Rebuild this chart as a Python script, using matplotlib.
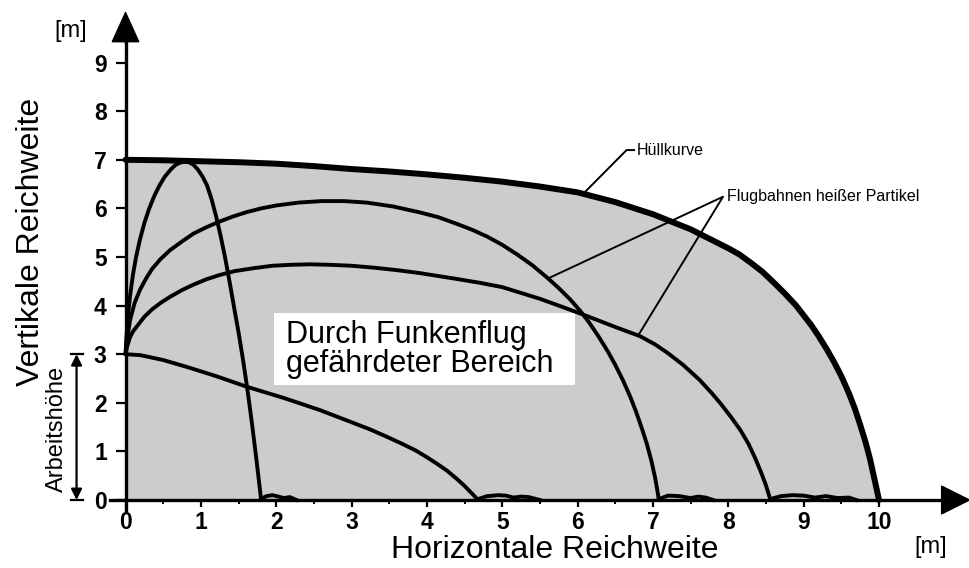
import matplotlib
matplotlib.use("Agg")
import matplotlib.pyplot as plt
import matplotlib.patches as patches

plt.rcParams['font.family'] = ['Liberation Sans', 'DejaVu Sans']

# envelope curve (Hüllkurve)
env_x = [0, 0.5, 1, 1.5, 2, 2.5, 3, 3.5, 4, 4.5, 5, 5.5, 6, 6.5, 7, 7.5, 8, 8.15, 8.3,
         8.45, 8.6, 8.75, 8.9, 9.0, 9.1, 9.2, 9.3, 9.4, 9.5, 9.6, 9.68, 9.75, 9.82,
         9.88, 9.93, 9.97, 10]
env_y = [7.0, 6.99, 6.97, 6.95, 6.92, 6.87, 6.81, 6.76, 6.7, 6.63, 6.55, 6.45, 6.33,
         6.13, 5.88, 5.57, 5.18, 5.05, 4.88, 4.7, 4.48, 4.25, 4.0, 3.8, 3.6, 3.37, 3.12,
         2.85, 2.55, 2.2, 1.88, 1.55, 1.2, 0.85, 0.5, 0.22, 0]

# steep trajectory
steep_x = [0, 0.01, 0.03, 0.06, 0.1, 0.14, 0.19, 0.25, 0.31, 0.38, 0.45, 0.52, 0.6,
           0.66, 0.72, 0.78, 0.84, 0.9, 0.96, 1.02, 1.08, 1.14, 1.2, 1.26, 1.32, 1.38,
           1.44, 1.5, 1.56, 1.62, 1.68, 1.74, 1.8]
steep_y = [3.0, 3.3, 3.75, 4.2, 4.65, 5.0, 5.35, 5.7, 5.98, 6.25, 6.47, 6.65, 6.8,
           6.89, 6.94, 6.96, 6.95, 6.9, 6.8, 6.66, 6.48, 6.2, 5.85, 5.45, 5.0, 4.5,
           3.97, 3.45, 2.88, 2.25, 1.55, 0.8, 0]

# medium trajectory
mid_x = [0, 0.02, 0.06, 0.12, 0.19, 0.27, 0.35, 0.46, 0.59, 0.75, 0.9, 1.07, 1.25, 1.42,
         1.6, 1.8, 2.0, 2.3, 2.6, 2.9, 3.2, 3.55, 3.9, 4.15, 4.4, 4.6, 4.8, 5.0, 5.2,
         5.4, 5.6, 5.75, 5.9, 6.03, 6.15, 6.28, 6.4, 6.5, 6.6, 6.7, 6.78, 6.86, 6.92,
         6.98, 7.03, 7.08]
mid_y = [3.0, 3.3, 3.7, 4.05, 4.32, 4.55, 4.75, 4.95, 5.14, 5.32, 5.48, 5.61, 5.73, 5.83,
         5.92, 6.0, 6.06, 6.12, 6.15, 6.15, 6.12, 6.04, 5.92, 5.82, 5.68, 5.56, 5.42,
         5.25, 5.05, 4.83, 4.57, 4.36, 4.13, 3.9, 3.66, 3.36, 3.06, 2.78, 2.47, 2.12,
         1.8, 1.44, 1.15, 0.8, 0.45, 0]

# flat trajectory
low_x = [0, 0.02, 0.06, 0.1, 0.15, 0.25, 0.35, 0.47, 0.59, 0.75, 0.9, 1.07, 1.25, 1.45,
         1.7, 1.95, 2.2, 2.45, 2.7, 3.0, 3.3, 3.6, 3.9, 4.35, 4.7, 5.0, 5.25, 5.5, 5.75,
         6.03, 6.25, 6.5, 6.83, 7.03, 7.2, 7.4, 7.62, 7.78, 7.9, 8.03, 8.16, 8.27, 8.36,
         8.44, 8.5, 8.56]
low_y = [3.0, 3.15, 3.35, 3.47, 3.57, 3.77, 3.92, 4.06, 4.18, 4.32, 4.43, 4.54, 4.63,
         4.71, 4.77, 4.82, 4.84, 4.85, 4.84, 4.82, 4.78, 4.73, 4.67, 4.56, 4.47, 4.38,
         4.26, 4.14, 4.0, 3.84, 3.71, 3.56, 3.37, 3.2, 3.02, 2.78, 2.47, 2.2, 1.98, 1.72,
         1.44, 1.15, 0.85, 0.55, 0.3, 0]

# horizontal throw
hor_x = [0, 0.2, 0.5, 0.81, 1.2, 1.61, 2.1, 2.58, 3.0, 3.25, 3.47, 3.68, 3.85, 4.0,
         4.13, 4.27, 4.4, 4.5, 4.6, 4.68]
hor_y = [3.0, 2.98, 2.88, 2.74, 2.55, 2.33, 2.1, 1.85, 1.6, 1.45, 1.30, 1.15, 1.02, 0.88,
         0.75, 0.6, 0.43, 0.29, 0.13, 0]

# particles bouncing on the ground
bounce_x = [
    [1.8, 1.87, 1.95, 2.03, 2.1, 2.18, 2.27],
    [4.68, 4.8, 4.95, 5.05, 5.15, 5.25, 5.35, 5.5],
    [7.08, 7.2, 7.35, 7.5, 7.6, 7.7, 7.8],
    [8.56, 8.7, 8.85, 9.0, 9.15, 9.3, 9.45, 9.6, 9.7],
]
bounce_y = [
    [0.02, 0.08, 0.1, 0.07, 0.04, 0.06, 0.0],
    [0.02, 0.08, 0.1, 0.09, 0.05, 0.07, 0.06, 0.0],
    [0.02, 0.09, 0.08, 0.04, 0.07, 0.05, 0.0],
    [0.02, 0.08, 0.1, 0.09, 0.05, 0.08, 0.04, 0.05, 0.0],
]

x_ticks = list(range(0, 11))
y_ticks = list(range(0, 10))

fig = plt.figure(figsize=(9.7, 5.68), dpi=100)
ax = fig.add_axes([0, 0, 1, 1])
ax.set_xlim(-1.666, 11.208)
ax.set_ylim(-1.399, 10.288)

# shaded danger zone
ax.fill_between(env_x, 0, env_y, color='#cccccc', lw=0, zorder=1)

# trajectories
for xs, ys in [(steep_x, steep_y), (mid_x, mid_y), (low_x, low_y), (hor_x, hor_y)]:
    ax.plot(xs, ys, color='black', lw=2.8, solid_capstyle='round',
            solid_joinstyle='round', zorder=4)
for xs, ys in zip(bounce_x, bounce_y):
    ax.plot(xs, ys, color='black', lw=2.8, solid_joinstyle='round', zorder=4)
ax.plot(env_x, env_y, color='black', lw=4.3, solid_capstyle='round',
        solid_joinstyle='round', zorder=5)

# white label box
ax.add_patch(patches.Rectangle((1.97, 2.37), 4.0, 1.48, facecolor='white',
                               edgecolor='none', zorder=3))
ax.text(2.13, 3.1, 'Durch Funkenflug\ngefährdeter Bereich', fontsize=22,
        ha='left', va='center', linespacing=0.95, zorder=6)

# axes
for side in ['top', 'right']:
    ax.spines[side].set_visible(False)
ax.spines['left'].set_position(('data', 0))
ax.spines['bottom'].set_position(('data', 0))
ax.spines['left'].set_bounds(-0.2, 9.7)
ax.spines['bottom'].set_bounds(-0.2, 10.9)
ax.spines['left'].set_linewidth(2.4)
ax.spines['bottom'].set_linewidth(2.4)
ax.spines['left'].set_zorder(6)
ax.spines['bottom'].set_zorder(6)

ax.set_xticks(x_ticks)
ax.set_yticks(y_ticks)
ax.set_xticks([t + 0.5 for t in x_ticks[:-1]], minor=True)
ax.tick_params(axis='x', which='major', direction='out', length=5, width=1.6,
               pad=3, labelsize=16.5)
ax.tick_params(axis='x', which='minor', direction='out', length=3, width=1.4)
ax.tick_params(axis='y', which='major', direction='out', length=7.5, width=1.6,
               pad=6, labelsize=16.5)
for lab in ax.get_xticklabels() + ax.get_yticklabels():
    lab.set_fontweight('bold')

# arrow heads
ax.annotate('', xy=(0, 10.03), xytext=(0, 9.4),
            arrowprops=dict(facecolor='black', edgecolor='black', width=0.1,
                            headwidth=19, headlength=21, shrink=0), zorder=7,
            annotation_clip=False)
ax.annotate('', xy=(11.2, 0), xytext=(10.6, 0),
            arrowprops=dict(facecolor='black', edgecolor='black', width=0.1,
                            headwidth=20, headlength=20, shrink=0), zorder=7,
            annotation_clip=False)

# axis labels
ax.text(5.70, -1.02, 'Horizontale Reichweite', fontsize=23, ha='center', va='center')
ax.text(-1.26, 5.31, 'Vertikale Reichweite', fontsize=23, ha='center', va='center',
        rotation=90)
ax.text(-0.73, 9.65, '[m]', fontsize=17, ha='center', va='center')
ax.text(10.68, -0.97, '[m]', fontsize=17, ha='center', va='center')

# working height indicator
ax.annotate('', xy=(-0.65, 3.0), xytext=(-0.65, 0),
            arrowprops=dict(arrowstyle='<|-|>', color='black', lw=1.6,
                            mutation_scale=16, shrinkA=0, shrinkB=0),
            annotation_clip=False)
ax.plot([-0.73, -0.57], [3.0, 3.0], color='black', lw=1.6)
ax.plot([-0.73, -0.57], [0, 0], color='black', lw=1.6)
ax.text(-0.91, 1.47, 'Arbeitshöhe', fontsize=17, ha='center', va='center', rotation=90)

# callouts
ax.plot([6.08, 6.65, 6.75], [6.31, 7.2, 7.2], color='black', lw=1.4, zorder=6)
ax.text(6.78, 7.2, 'Hüllkurve', fontsize=11.5, ha='left', va='center')
ax.plot([5.61, 7.93, 6.81], [4.56, 6.24, 3.40], color='black', lw=1.4, zorder=6)
ax.text(7.98, 6.24, 'Flugbahnen heißer Partikel', fontsize=11.5, ha='left', va='center')

fig.savefig('out.png', dpi=100)
